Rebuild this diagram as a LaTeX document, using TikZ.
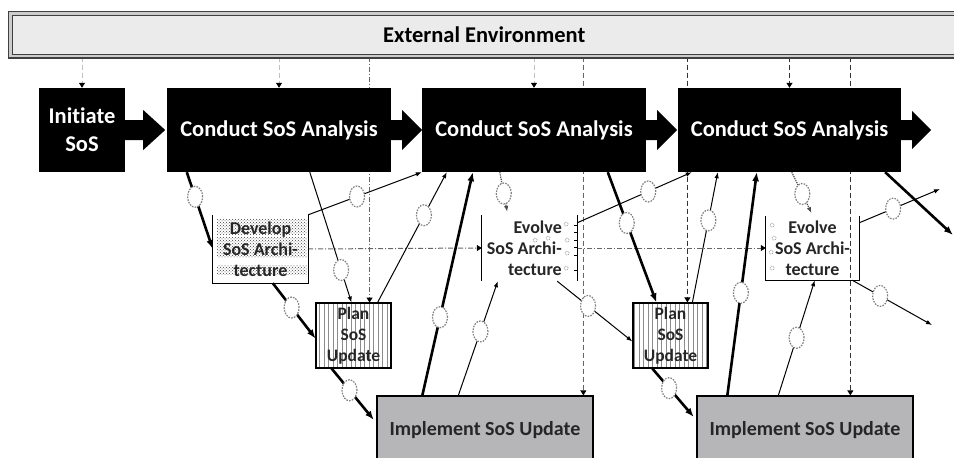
\documentclass[tikz,border=0pt]{standalone}
\usepackage{fontspec}
\setmainfont{Carlito}[Ligatures=NoCommon]
\usetikzlibrary{arrows.meta,shapes.geometric,patterns,patterns.meta,calc}
\pgfdeclarelayer{bg}
\pgfsetlayers{bg,main}
\definecolor{implgray}{RGB}{182,182,184}
\definecolor{envgray}{RGB}{235,235,235}
\begin{document}
\begin{tikzpicture}[x=1pt,y=-1pt,
  blackbox/.style={fill=black, text=white, inner sep=0pt, align=center,
    minimum height=84pt, font=\fontsize{22.5}{28}\selectfont\bfseries},
  envbox/.style={draw=black!75, line width=1.3pt, double=black!20,
    double distance=2.4pt, fill=envgray, inner sep=0pt,
    font=\fontsize{22.5}{26}\selectfont\bfseries},
  archbox/.style={inner sep=0pt, align=center,
    font=\fontsize{18}{21}\selectfont\bfseries, text=black!85},
  planbox/.style={draw=black, line width=1.2pt,
    pattern={Lines[angle=90,distance=4.5pt,line width=0.9pt]},
    pattern color=black!45, inner sep=0pt, align=center,
    minimum width=75pt, minimum height=65pt,
    font=\fontsize{17.5}{21}\selectfont\bfseries, text=black!85},
  implbox/.style={draw=black, line width=1.3pt, fill=implgray,
    minimum width=216pt, minimum height=68pt, inner sep=0pt,
    font=\fontsize{20}{24}\selectfont\bfseries, text=black!85},
  sidebar/.style={line width=1.1pt, draw=black},
  token/.style={ellipse, draw=black!50, fill=white, line width=1.2pt,
    dash pattern=on 1.6pt off 1.2pt, minimum width=15pt,
    minimum height=21pt, inner sep=0pt},
  heavyflow/.style={line width=2.6pt, draw=black,
    -{Latex[length=9pt,width=7pt]}},
  thinflow/.style={line width=1pt, draw=black,
    -{Latex[length=6pt,width=4.5pt]}},
  dotflow/.style={line width=1.2pt, draw=black!70, densely dotted,
    -{Latex[length=6pt,width=4.5pt]}},
  envlink/.style={line width=1pt, draw=black!80, dash pattern=on 5pt off 3pt,
    -{Triangle[length=5pt,width=6pt,color=black]}},
  envfaint/.style={envlink, draw=black!25},
  dashdotlink/.style={line width=1pt, draw=black!60,
    dash pattern=on 5pt off 2pt on 1pt off 2pt,
    -{Triangle[length=5pt,width=6pt,color=black]}},
  speck/.style={draw=black!45, line width=0.7pt, densely dotted}
]
\useasboundingbox (0,0) rectangle (954,458);

% environment banner
\node[envbox, minimum width=947.5pt, minimum height=42.5pt] (env)
  at (484.25,34.75) {External Environment};

% main process chain
\node[blackbox, minimum width=86pt] (init) at (82,130) {Initiate\\SoS};
\node[blackbox, minimum width=224pt] (c1) at (279,130) {Conduct SoS Analysis};
\node[blackbox, minimum width=224pt] (c2) at (534,130) {Conduct SoS Analysis};
\node[blackbox, minimum width=223pt] (c3) at (789.5,130) {Conduct SoS Analysis};

% architecture boxes
\node[archbox, minimum width=95pt, minimum height=68pt] (dev) at (260.5,249)
  {Develop\\SoS Archi-\\tecture};
\node[minimum width=95pt, minimum height=66pt, inner sep=0pt] (ev2) at (529.5,248) {};
\node[archbox, align=right, anchor=east] (ev2t) at (562,248)
  {Evolve\\SoS Archi-\\tecture};
\node[archbox, minimum width=93pt, minimum height=64pt] (ev3) at (812.5,248)
  {Evolve\\SoS Archi-\\tecture};

% planning boxes
\node[planbox] (plan1) at (353.5,335.5) {Plan\\SoS\\Update};
\node[planbox] (plan2) at (670.5,335.5) {Plan\\SoS\\Update};

% implementation boxes
\node[implbox] (impl1) at (485,430) {Implement SoS Update};
\node[implbox] (impl2) at (805,430) {Implement SoS Update};

% box outlines drawn as open sides
\draw[sidebar] (dev.north west) -- (dev.south west) -- (dev.south east) -- (dev.north east);
\draw[sidebar] (ev3.north west) -- (ev3.south west) -- (ev3.south east) -- (ev3.north east);
\draw[sidebar] (ev2.north west) -- (ev2.south west);
\draw[sidebar] (ev2.north east) -- (ev2.south east);
\foreach \yy in {225,232,240,247,255,270}
  \draw[line width=0.8pt] (574,\yy) -- (577,\yy);

% small marks beside the evolve texts
\foreach \p in {(566,224),(567,240),(567,253),(566,268),(548,238),(535,240)}
  \draw[speck] \p circle (2pt);
\foreach \p in {(772,225),(774,238),(771,252),(772,268)}
  \draw[speck] \p circle (2pt);

% block arrows along the chain
\fill (init.east) ++(0,-10) -- ++(18,0) -- ++(0,-10) -- ++(22,20)
  -- ++(-22,20) -- ++(0,-10) -- ++(-18,0) -- cycle;
\fill (c1.east) ++(0,-10) -- ++(11,0) -- ++(0,-10) -- ++(20,20)
  -- ++(-20,20) -- ++(0,-10) -- ++(-11,0) -- cycle;
\fill (c2.east) ++(0,-10) -- ++(11,0) -- ++(0,-10) -- ++(20,20)
  -- ++(-20,20) -- ++(0,-10) -- ++(-11,0) -- cycle;
\fill (c3.east) ++(0,-10) -- ++(11,0) -- ++(0,-9) -- ++(19,19)
  -- ++(-19,19) -- ++(0,-9) -- ++(-11,0) -- cycle;

% free ends at the right margin
\coordinate (o1) at (940,189);
\coordinate (o2) at (953,235);
\coordinate (o3) at (932,325);

% entry points of the environment links
\coordinate (p1in) at ([xshift=54pt]plan1.north west);
\coordinate (i1in) at ([xshift=207pt]impl1.north west);
\coordinate (p2in) at ([xshift=55pt]plan2.north west);
\coordinate (i2in) at ([xshift=154pt]impl2.north west);

\begin{pgfonlayer}{bg}
  % hatched strips behind the first architecture text
  \fill[pattern=crosshatch dots, pattern color=black!75] (217,219) rectangle (307,234);
  \fill[pattern=crosshatch dots, pattern color=black!75] (217,237) rectangle (307,257);
  \fill[pattern=crosshatch dots, pattern color=black!75] (217,265) rectangle (307,274);

  % environment links
  \draw[envfaint] (init.north |- env.south) -- (init.north);
  \draw[envfaint] (c1.north |- env.south) -- (c1.north);
  \draw[dashdotlink] (p1in |- env.south) -- (p1in);
  \draw[envfaint] (c2.north |- env.south) -- (c2.north);
  \draw[envlink, draw=black!60] (i1in |- env.south) -- (i1in);
  \draw[envlink] (p2in |- env.south) -- (p2in);
  \draw[envlink] (c3.north |- env.south) -- (c3.north);
  \draw[envlink] (i2in |- env.south) -- (i2in);

  % architecture hand-over
  \draw[dashdotlink] (dev.east) -- (ev2.west);
  \draw[dashdotlink] (ev2.east) -- (ev3.west);

  % first cycle
  \draw[heavyflow] ([xshift=20pt]c1.south west) -- node[token,pos=.32](t1){} (dev.west);
  \draw[thinflow] ([xshift=143pt]c1.south west) -- node[token,pos=.75](t2){} ([xshift=36pt]plan1.north west);
  \draw[thinflow] (dev.north east) -- node[token,pos=.43](t3){} (c2.south west);
  \draw[heavyflow] ([xshift=60pt]dev.south west) -- node[token,pos=.44](t4){} ([yshift=-3pt]plan1.west);
  \draw[heavyflow, shorten >=4pt] ([xshift=16pt]plan1.south west) -- node[token,pos=.4](t5){} ([yshift=7pt]impl1.west);
  \draw[thinflow] ([xshift=62pt]plan1.north west) -- node[token,pos=.67](t6){} ([xshift=25pt]c2.south west);
  \draw[heavyflow] ([xshift=46pt]impl1.north west) -- node[token,pos=.35](t7){} ([xshift=51pt]c2.south west);
  \draw[thinflow] ([xshift=82pt]impl1.north west) -- node[token,pos=.56](t8){} ([xshift=16pt]ev2.south west);

  % second cycle
  \draw[dotflow, shorten >=3pt] ([xshift=78pt]c2.south west) -- node[token,pos=.5](t9){} ([xshift=26pt]ev2.north west);
  \draw[thinflow] ([yshift=-8pt]ev2.north east) -- node[token,pos=.62](t10){} ([xshift=14pt]c3.south west);
  \draw[heavyflow] ([xshift=186pt]c2.south west) -- node[token,pos=.39](t11){} ([xshift=24pt]plan2.north west);
  \draw[thinflow] ([xshift=-20pt]ev2.south east) -- node[token,pos=.41](t12){} ([yshift=-6pt]plan2.west);
  \draw[thinflow] ([xshift=60pt]plan2.north west) -- node[token,pos=.63](t13){} ([xshift=40pt]c3.south west);
  \draw[heavyflow] ([xshift=31pt]impl2.north west) -- node[token,pos=.46](t14){} ([xshift=79pt]c3.south west);
  \draw[thinflow] ([xshift=82pt]impl2.north west) -- node[token,pos=.5](t15){} ([xshift=49pt]ev3.south west);
  \draw[heavyflow, shorten >=4pt] ([xshift=20pt]plan2.south west) -- node[token,pos=.38](t16){} ([yshift=10pt]impl2.west);

  % third cycle
  \draw[dotflow, shorten >=3pt] ([xshift=114pt]c3.south west) -- node[token,pos=.5](t17){} ([xshift=47pt]ev3.north west);
  \draw[thinflow] ([yshift=-7pt]ev3.north east) -- node[token,pos=.42](t18){} (o1);
  \draw[heavyflow] ([xshift=-16pt]c3.south east) -- (o2);
  \draw[thinflow] ([xshift=-7pt]ev3.south east) -- node[token,pos=.35](t19){} (o3);
\end{pgfonlayer}
\end{tikzpicture}
\end{document}
